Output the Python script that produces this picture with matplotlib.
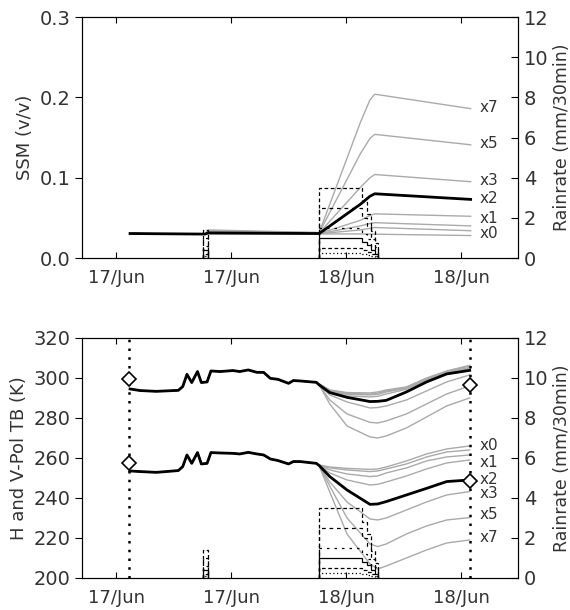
import numpy as np
import matplotlib.pyplot as plt

# time axis in hours from 17/Jun 00:00
tick_hours = [0, 12, 24, 36]
tick_labels = ['17/Jun', '17/Jun', '18/Jun', '18/Jun']

scenarios = ['x0', 'xa', 'xb', 'x1', 'x2', 'x3', 'x5', 'x7']

# surface soil moisture for each rain scenario
t_ssm = [1.46, 9.3, 9.6, 21.2, 25.5, 26.5, 27.0, 37.0]
ssm = {
    'x0': [0.0305, 0.0298, 0.0298, 0.0300, 0.0300, 0.0298, 0.0297, 0.0280],
    'xa': [0.0305, 0.0298, 0.0303, 0.0302, 0.0350, 0.0370, 0.0380, 0.0340],
    'xb': [0.0305, 0.0298, 0.0306, 0.0303, 0.0400, 0.0430, 0.0440, 0.0400],
    'x1': [0.0305, 0.0298, 0.0308, 0.0305, 0.0470, 0.0530, 0.0550, 0.0520],
    'x2': [0.0305, 0.0298, 0.0313, 0.0305, 0.0670, 0.0770, 0.0800, 0.0730],
    'x3': [0.0305, 0.0298, 0.0330, 0.0312, 0.0880, 0.1000, 0.1040, 0.0950],
    'x5': [0.0305, 0.0298, 0.0340, 0.0315, 0.1300, 0.1490, 0.1540, 0.1410],
    'x7': [0.0305, 0.0298, 0.0350, 0.0318, 0.1690, 0.1970, 0.2040, 0.1860],
}

# brightness temperatures before the rain (same for all scenarios)
t_pre = [1.46, 2.5, 4.2, 6.5, 6.96, 7.4, 7.9, 8.5, 8.9, 9.5, 9.9, 10.85, 12.2,
         12.9, 13.8, 14.7, 15.4, 16.1, 16.9, 18.0, 18.5, 19.2, 20.9]
tbv_pre = [294.5, 293.7, 293.3, 293.8, 295.7, 301.8, 297.7, 303.2, 297.7, 298.0,
           303.5, 303.2, 303.7, 303.2, 304.0, 302.8, 302.8, 299.8, 299.3, 297.3,
           298.7, 298.5, 297.8]
tbh_pre = [253.5, 253.2, 252.8, 253.7, 255.7, 261.5, 257.3, 262.7, 257.0, 257.3,
           262.7, 262.5, 262.3, 262.0, 262.8, 262.0, 261.5, 259.5, 258.7, 257.0,
           258.2, 258.2, 257.3]

# brightness temperatures from the rain onwards
t_post = [21.2, 22.3, 24.1, 26.5, 27.3, 28.2, 30.3, 32.4, 34.5, 36.9]
tbv_post = {
    'x0': [297.0, 294.0, 292.7, 292.5, 293.0, 294.0, 295.5, 300.0, 303.5, 306.3],
    'xa': [297.0, 293.8, 292.3, 292.0, 292.4, 293.5, 295.2, 299.6, 303.1, 306.0],
    'xb': [297.0, 293.5, 291.8, 291.5, 291.8, 293.0, 294.8, 299.2, 302.7, 305.3],
    'x1': [296.8, 293.2, 291.0, 290.5, 290.8, 292.0, 294.3, 298.8, 302.5, 304.8],
    'x2': [296.5, 292.7, 290.3, 288.2, 288.3, 288.8, 293.0, 298.0, 302.0, 303.8],
    'x3': [296.5, 291.5, 288.0, 285.0, 285.2, 286.0, 289.0, 293.5, 298.0, 301.5],
    'x5': [296.5, 289.0, 282.0, 277.8, 277.5, 278.5, 282.0, 287.0, 292.0, 296.0],
    'x7': [296.5, 287.0, 276.0, 270.5, 270.0, 271.0, 275.0, 280.5, 286.0, 290.0],
}
tbh_post = {
    'x0': [256.5, 255.5, 254.8, 254.3, 254.5, 255.5, 258.5, 262.0, 264.5, 266.0],
    'xa': [256.3, 255.0, 254.0, 253.2, 253.5, 254.5, 257.0, 260.5, 263.0, 264.0],
    'xb': [256.2, 254.0, 252.0, 250.7, 251.0, 252.5, 255.0, 258.5, 260.5, 261.5],
    'x1': [256.2, 252.5, 249.0, 246.5, 246.8, 248.0, 251.0, 254.5, 257.5, 259.0],
    'x2': [256.2, 250.7, 244.0, 236.8, 237.0, 238.2, 241.5, 244.8, 248.2, 249.0],
    'x3': [256.0, 248.0, 238.0, 229.5, 229.0, 230.0, 234.0, 238.0, 241.5, 243.2],
    'x5': [256.0, 246.0, 230.0, 217.0, 215.7, 217.0, 222.0, 226.0, 229.0, 230.2],
    'x7': [256.0, 243.0, 222.0, 207.0, 204.5, 206.0, 210.0, 214.0, 217.5, 219.0],
}

# observed TB (diamonds) at the two overpasses
t_obs = [1.3, 36.9]
tbv_obs = [299.5, 296.3]
tbh_obs = [257.3, 248.6]

# rain rate (mm/30min) for each scenario: small event then main event
rain_edges1 = [9.1, 9.6]
rain_edges2 = [21.2, 25.7, 26.2, 26.6, 27.0, 27.3]
rain1 = {'xa': [0.1], 'x1': [0.2], 'x2': [0.4], 'x3': [0.6], 'x5': [1.0], 'x7': [1.4]}
rain2 = {
    'xa': [0.25, 0.20, 0.16, 0.10, 0.05],
    'x1': [0.50, 0.40, 0.32, 0.19, 0.11],
    'x2': [1.00, 0.80, 0.63, 0.38, 0.22],
    'x3': [1.50, 1.20, 0.95, 0.57, 0.33],
    'x5': [2.50, 2.00, 1.60, 0.95, 0.55],
    'x7': [3.50, 2.80, 2.20, 1.33, 0.77],
}
rain_ls = {'xa': (0, (1, 2)), 'x1': (0, (3, 2)), 'x2': '-', 'x3': (0, (2, 4)),
           'x5': (0, (3, 3)), 'x7': (0, (3, 2))}

# end labels
lab_names = ['x7', 'x5', 'x3', 'x2', 'x1', 'x0']
lab_ssm = [0.188, 0.142, 0.097, 0.074, 0.049, 0.031]
lab_tb = [220.0, 231.5, 242.0, 249.3, 257.7, 266.0]

txt = '#333333'
plt.rcParams['font.family'] = 'DejaVu Sans'
plt.rcParams['font.size'] = 12

fig = plt.figure(figsize=(5.7, 6.1), dpi=100)
ax1 = fig.add_axes([0.1439, 0.577, 0.765, 0.395])
ax2 = fig.add_axes([0.1439, 0.0525, 0.765, 0.3935])
xlim = (-3.55, 41.95)


def rain_axis(ax):
    r = ax.twinx()
    for k in rain2:
        r.stairs(rain1[k], rain_edges1, baseline=0, color='k', lw=0.9, ls=rain_ls[k])
        r.stairs(rain2[k], rain_edges2, baseline=0, color='k', lw=0.9, ls=rain_ls[k])
    r.set_ylim(0, 12)
    r.set_yticks(range(0, 13, 2))
    r.set_ylabel('Rainrate (mm/30min)', color=txt, fontsize=12.5, labelpad=3)
    r.tick_params(axis='y', direction='in', length=5, colors='k', labelcolor=txt,
                  labelsize=14, pad=4)
    return r


def style(ax):
    ax.set_xlim(*xlim)
    ax.set_xticks(tick_hours)
    ax.set_xticklabels(tick_labels)
    ax.tick_params(axis='x', direction='in', length=4, top=True, colors='k',
                   labelcolor=txt, labelsize=13, pad=8)
    ax.tick_params(axis='y', direction='out', length=5, colors='k',
                   labelcolor=txt, labelsize=14)


# top panel: SSM
for k in scenarios:
    if k == 'x2':
        continue
    ax1.plot(t_ssm, ssm[k], color='#aaaaaa', lw=1)
ax1.plot(t_ssm, ssm['x2'], color='k', lw=2)
ax1.set_ylim(0, 0.3)
ax1.set_yticks([0, 0.1, 0.2, 0.3])
ax1.set_yticklabels(['0.0', '0.1', '0.2', '0.3'])
ax1.set_ylabel('SSM (v/v)', color=txt, fontsize=13)
style(ax1)
for name, y in zip(lab_names, lab_ssm):
    ax1.text(37.9, y, name, color=txt, fontsize=11, va='center')
rain_axis(ax1)

# bottom panel: TB
for k in scenarios:
    if k == 'x2':
        continue
    ax2.plot(t_pre + t_post, tbv_pre + tbv_post[k], color='#aaaaaa', lw=1)
    ax2.plot(t_pre + t_post, tbh_pre + tbh_post[k], color='#aaaaaa', lw=1)
ax2.plot(t_pre + t_post, tbv_pre + tbv_post['x2'], color='k', lw=2)
ax2.plot(t_pre + t_post, tbh_pre + tbh_post['x2'], color='k', lw=2)
for t in t_obs:
    ax2.axvline(t, color='k', ls=(0, (1, 2.5)), lw=1.8)
ax2.plot(t_obs, tbv_obs, 'D', ms=7.5, mfc='white', mec='k', mew=1.2, zorder=5)
ax2.plot(t_obs, tbh_obs, 'D', ms=7.5, mfc='white', mec='k', mew=1.2, zorder=5)
ax2.set_ylim(200, 320)
ax2.set_yticks(range(200, 321, 20))
ax2.set_ylabel('H and V-Pol TB (K)', color=txt, fontsize=13)
style(ax2)
for name, y in zip(lab_names, lab_tb):
    ax2.text(37.9, y, name, color=txt, fontsize=11, va='center')
rain_axis(ax2)

fig.savefig('out.png', dpi=100)
